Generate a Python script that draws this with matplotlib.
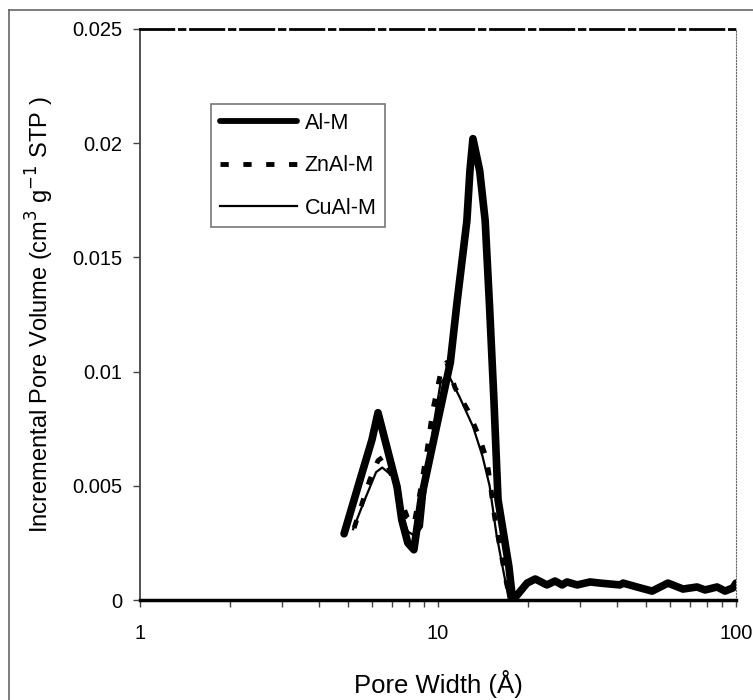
import matplotlib.pyplot as plt
import numpy as np
from matplotlib.lines import Line2D

plt.rcParams['font.family'] = ['Liberation Sans', 'DejaVu Sans']

# Al-M
al_x = [4.84, 5.47, 6.0, 6.29, 7.29, 7.56, 7.92, 8.3, 8.77, 9.78, 11.0, 11.6, 12.5, 12.8,
        13.1, 13.8, 14.4, 14.9, 15.4, 15.9, 17.3, 17.8, 18.4, 19.9, 21.2, 23.2, 24.7,
        26.1, 27.1, 29.3, 32.4, 35.0, 40.8, 41.8, 46.5, 52.3, 59.1, 66.4, 74.0, 78.7,
        86.4, 91.9, 97.7, 100.0]
al_y = [0.0029, 0.00525, 0.0070, 0.0082, 0.00495, 0.0035, 0.0025, 0.0022, 0.0044, 0.0073,
        0.0104, 0.0131, 0.0166, 0.0188, 0.0202, 0.0188, 0.0166, 0.0128, 0.0088, 0.0044,
        0.00145, 0.0, 0.0002, 0.00074, 0.00092, 0.00066, 0.00083, 0.00066, 0.00079,
        0.00066, 0.00079, 0.00074, 0.00066, 0.00074, 0.00057, 0.00039, 0.00074, 0.00048,
        0.00057, 0.00044, 0.00057, 0.00039, 0.00053, 0.00074]

# ZnAl-M
zn_x = [5.23, 5.61, 5.9, 6.29, 6.6, 7.3, 7.9, 8.3, 8.7, 9.2, 9.6, 10.15, 10.4, 10.7,
        11.4, 12.6, 13.8, 14.6, 14.9, 15.5, 16.2, 17.0, 17.5]
zn_y = [0.00315, 0.00438, 0.00525, 0.0061, 0.0063, 0.0048, 0.0036, 0.0033, 0.0047, 0.0066,
        0.0083, 0.0098, 0.0102, 0.0104, 0.0093, 0.0083, 0.0071, 0.0061, 0.0053, 0.0036,
        0.0022, 0.0007, 0.0]

# CuAl-M
cu_x = [5.19, 5.6, 6.2, 6.5, 7.07, 7.37, 7.56, 7.92, 8.37, 8.83, 9.2, 9.7, 10.2, 10.8,
        11.8, 13.1, 14.1, 14.9, 15.7, 16.5, 17.3]
cu_y = [0.0031, 0.0042, 0.0056, 0.0058, 0.0054, 0.0047, 0.0038, 0.0030, 0.0028, 0.0032,
        0.0055, 0.0078, 0.0095, 0.0099, 0.0089, 0.0076, 0.0063, 0.0050, 0.0029, 0.0014, 0.0]

yticks = [0, 0.005, 0.01, 0.015, 0.02, 0.025]
ylabels = ['0', '0.005', '0.01', '0.015', '0.02', '0.025']

fig = plt.figure(figsize=(7.53, 7.0), dpi=100)
ax = fig.add_axes([140/753, 100/700, 596/753, 571/700])

ax.plot(al_x, al_y, color='black', lw=5.5, solid_capstyle='round',
        solid_joinstyle='round', label='Al-M')
ax.plot(zn_x, zn_y, color='black', lw=3.5, ls=(0, (1.7, 3.0)), label='ZnAl-M')
ax.plot(cu_x, cu_y, color='black', lw=1.6, label='CuAl-M')

ax.set_xscale('log')
ax.set_xlim(1, 100)
ax.set_ylim(0, 0.025)
ax.set_yticks(yticks)
ax.set_yticklabels(ylabels)
ax.set_xticks([1, 10, 100])
ax.set_xticklabels(['1', '10', '100'])
ax.tick_params(axis='both', labelsize=14.5, direction='out', length=5, width=1, color='#444444')
ax.tick_params(axis='x', which='minor', direction='out', length=5, width=1, color='#444444')
ax.tick_params(axis='x', pad=12)
ax.tick_params(axis='y', pad=7.5)

ax.spines['left'].set_color('#444444')
ax.spines['left'].set_linewidth(1.3)
ax.spines['bottom'].set_color('black')
ax.spines['bottom'].set_linewidth(2.5)
ax.spines['top'].set_linestyle((0, (12, 2, 2, 2)))
ax.spines['top'].set_linewidth(2)
ax.spines['right'].set_linestyle(':')
ax.spines['right'].set_color('#666666')

ax.set_xlabel('Pore Width (Å)', fontsize=18.5, labelpad=20)
ax.set_ylabel('Incremental Pore Volume (cm$^3$ g$^{-1}$ STP )', fontsize=17, labelpad=12)

leg = ax.legend(loc='upper left', bbox_to_anchor=(211/753, 1 - 104/700),
                bbox_transform=fig.transFigure, fontsize=15.5, frameon=True, fancybox=False,
                edgecolor='#555555', handlelength=3.6, handletextpad=0.35,
                labelspacing=1.0, borderaxespad=0, borderpad=0.4)
leg.get_frame().set_linewidth(1.2)
leg.legend_handles[0].set_linewidth(4.2)

# outer chart-area border (left and top edges visible)
fig.add_artist(Line2D([9/753, 9/753], [0, 1 - 10/700], color='#666666', lw=1.2))
fig.add_artist(Line2D([9/753, 1], [1 - 10/700, 1 - 10/700], color='#666666', lw=1.2))

fig.savefig('out.png', dpi=100)
